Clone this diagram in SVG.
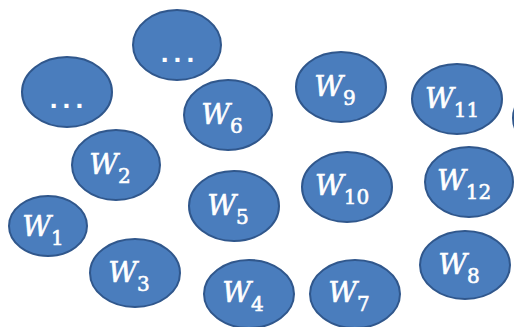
<svg xmlns="http://www.w3.org/2000/svg" width="514" height="327" viewBox="0 0 514 327">
<style>
.n{fill:#4a7dbd;stroke:#30578c;stroke-width:2}
.l{fill:#fff;stroke:#fff;stroke-width:0.6;font-family:"DejaVu Serif","Liberation Serif",serif;font-style:italic;font-size:28px;text-anchor:middle}
.s{font-style:normal;font-size:20px}
.d{fill:#fff;font-family:"Liberation Sans",Arial,sans-serif;font-weight:bold;font-size:28px;text-anchor:middle;letter-spacing:5px}
</style>
<rect width="514" height="327" fill="#fff"/>
<g id="connectors"/>
<g id="nodeDotsTop"><ellipse class="n" cx="177" cy="45" rx="44" ry="35"/><text class="d" x="180" y="62">...</text></g>
<g id="nodeDotsLeft"><ellipse class="n" cx="67" cy="92" rx="45" ry="35"/><text class="d" x="69" y="108">...</text></g>
<g id="nodeW6"><ellipse class="n" cx="228" cy="115" rx="44" ry="35"/><text class="l" x="222" y="124">W<tspan class="s" dy="9">6</tspan></text></g>
<g id="nodeW9"><ellipse class="n" cx="341" cy="87" rx="45" ry="35"/><text class="l" x="335" y="96">W<tspan class="s" dy="9">9</tspan></text></g>
<g id="nodeW11"><ellipse class="n" cx="457" cy="99" rx="45" ry="35"/><text class="l" x="452" y="108">W<tspan class="s" dy="9">11</tspan></text></g>
<g id="nodeEdge"><ellipse class="n" cx="558" cy="118" rx="45" ry="35"/></g>
<g id="nodeW2"><ellipse class="n" cx="116" cy="165" rx="44" ry="35"/><text class="l" x="110" y="174">W<tspan class="s" dy="9">2</tspan></text></g>
<g id="nodeW1"><ellipse class="n" cx="48" cy="226" rx="39" ry="30"/><text class="l" x="43" y="236">W<tspan class="s" dy="9">1</tspan></text></g>
<g id="nodeW5"><ellipse class="n" cx="234" cy="206" rx="45" ry="35"/><text class="l" x="228" y="215">W<tspan class="s" dy="9">5</tspan></text></g>
<g id="nodeW10"><ellipse class="n" cx="347" cy="187" rx="45" ry="35"/><text class="l" x="342" y="195">W<tspan class="s" dy="9">10</tspan></text></g>
<g id="nodeW12"><ellipse class="n" cx="469" cy="182" rx="44" ry="35"/><text class="l" x="464" y="190">W<tspan class="s" dy="9">12</tspan></text></g>
<g id="nodeW3"><ellipse class="n" cx="135" cy="273" rx="45" ry="34"/><text class="l" x="129" y="282">W<tspan class="s" dy="9">3</tspan></text></g>
<g id="nodeW4"><ellipse class="n" cx="249" cy="294" rx="45" ry="34"/><text class="l" x="243" y="302">W<tspan class="s" dy="9">4</tspan></text></g>
<g id="nodeW7"><ellipse class="n" cx="355" cy="294" rx="45" ry="34"/><text class="l" x="349" y="302">W<tspan class="s" dy="9">7</tspan></text></g>
<g id="nodeW8"><ellipse class="n" cx="465" cy="265" rx="45" ry="34"/><text class="l" x="459" y="274">W<tspan class="s" dy="9">8</tspan></text></g>
</svg>
